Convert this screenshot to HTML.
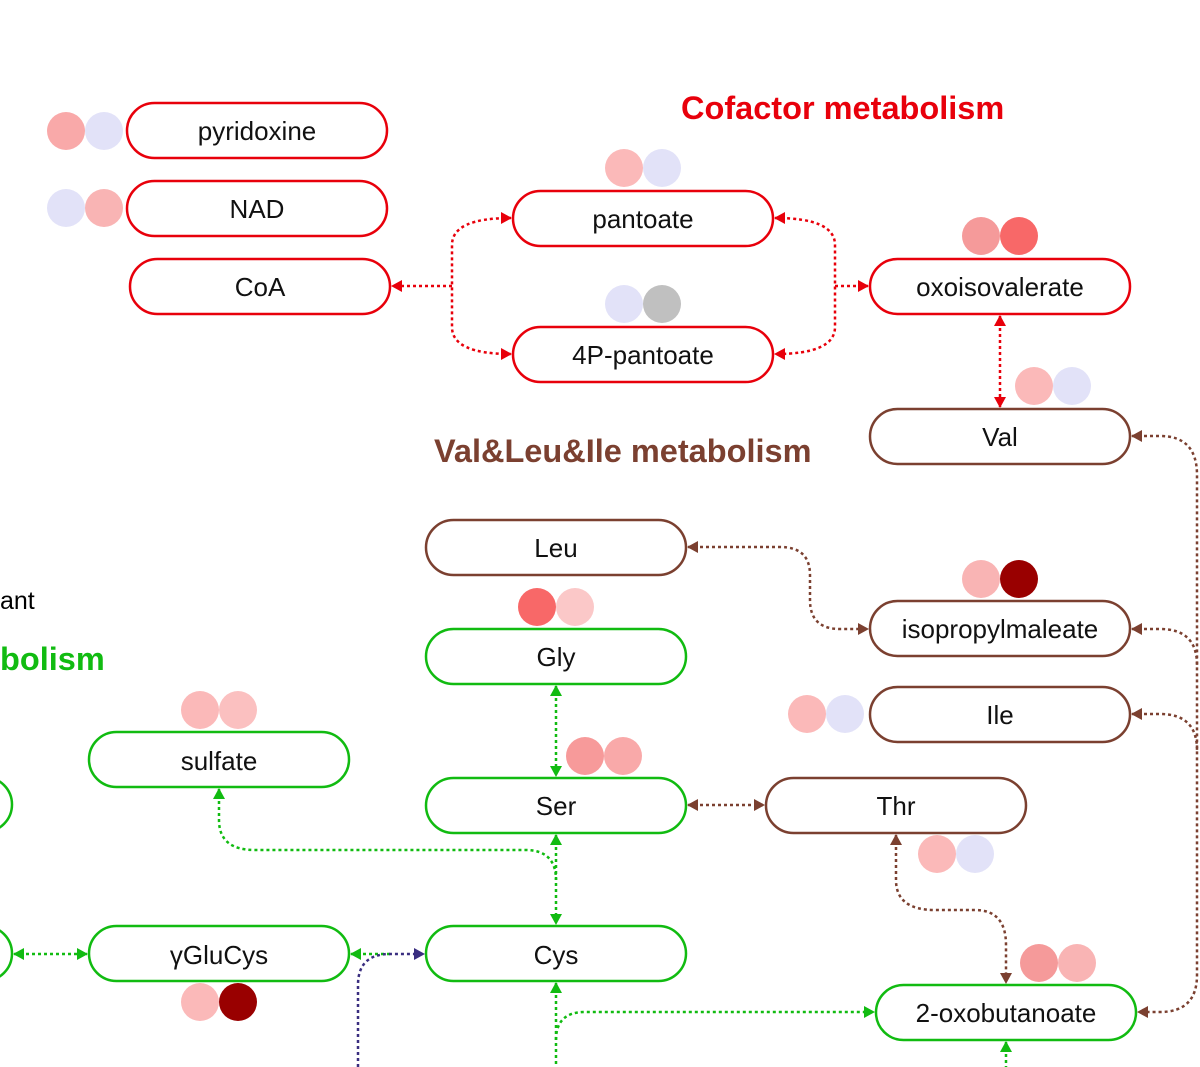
<!DOCTYPE html>
<html><head><meta charset="utf-8"><style>
html,body{margin:0;padding:0;background:#fff;}
svg{display:block;}
text{font-family:"Liberation Sans",Arial,sans-serif;}
</style></head><body>
<svg width="1200" height="1067" viewBox="0 0 1200 1067" xmlns="http://www.w3.org/2000/svg">
<defs>
<marker id="ar" markerWidth="12" markerHeight="12" refX="10" refY="6" orient="auto-start-reverse" markerUnits="userSpaceOnUse"><path d="M0,0 L11,6 L0,12 z" fill="#e8000b"/></marker>
<marker id="ab" markerWidth="12" markerHeight="12" refX="10" refY="6" orient="auto-start-reverse" markerUnits="userSpaceOnUse"><path d="M0,0 L11,6 L0,12 z" fill="#7b4030"/></marker>
<marker id="ag" markerWidth="12" markerHeight="12" refX="10" refY="6" orient="auto-start-reverse" markerUnits="userSpaceOnUse"><path d="M0,0 L11,6 L0,12 z" fill="#11bb11"/></marker>
<marker id="au" markerWidth="12" markerHeight="12" refX="10" refY="6" orient="auto-start-reverse" markerUnits="userSpaceOnUse"><path d="M0,0 L11,6 L0,12 z" fill="#3a2e80"/></marker>
</defs>

<text x="681" y="119" font-size="32.5" font-weight="bold" fill="#e8000b">Cofactor metabolism</text>
<text x="434" y="462" font-size="32.5" font-weight="bold" fill="#7b4030">Val&amp;Leu&amp;Ile metabolism</text>
<text x="0" y="670" font-size="32.5" font-weight="bold" fill="#11bb11">bolism</text>
<text x="0" y="609" font-size="25" fill="#000">ant</text>

<g fill="none" stroke-width="2.5" stroke-dasharray="3,3">
<path d="M452,286 L392,286" stroke="#e8000b" marker-end="url(#ar)"/>
<path d="M511,218 Q452,218 452,245 L452,327 Q452,354 511,354" stroke="#e8000b" marker-start="url(#ar)" marker-end="url(#ar)"/>
<path d="M775,218 Q835,218 835,245 L835,327 Q835,354 775,354" stroke="#e8000b" marker-start="url(#ar)" marker-end="url(#ar)"/>
<path d="M835,286 L868,286" stroke="#e8000b" marker-end="url(#ar)"/>
<path d="M1000,316 L1000,407" stroke="#e8000b" marker-start="url(#ar)" marker-end="url(#ar)"/>

<path d="M688,547 L780,547 Q810,547 810,575 L810,600 Q810,629 840,629 L868,629" stroke="#7b4030" marker-start="url(#ab)" marker-end="url(#ab)"/>
<path d="M1132,436 L1160,436 Q1197,436 1197,475 L1197,975 Q1197,1012 1160,1012 L1138,1012" stroke="#7b4030" marker-start="url(#ab)" marker-end="url(#ab)"/>
<path d="M1132,629 L1160,629 Q1197,629 1197,665" stroke="#7b4030" marker-start="url(#ab)"/>
<path d="M1132,714 L1160,714 Q1197,714 1197,750" stroke="#7b4030" marker-start="url(#ab)"/>
<path d="M688,805 L764,805" stroke="#7b4030" marker-start="url(#ab)" marker-end="url(#ab)"/>
<path d="M896,835 L896,880 Q896,910 935,910 L975,910 Q1006,910 1006,945 L1006,983" stroke="#7b4030" marker-start="url(#ab)" marker-end="url(#ab)"/>

<path d="M556,686 L556,776" stroke="#11bb11" marker-start="url(#ag)" marker-end="url(#ag)"/>
<path d="M556,835 L556,924" stroke="#11bb11" marker-start="url(#ag)" marker-end="url(#ag)"/>
<path d="M219,789 L219,820 Q219,850 255,850 L525,850 Q556,850 556,880" stroke="#11bb11" marker-start="url(#ag)"/>
<path d="M14,954 L87,954" stroke="#11bb11" marker-start="url(#ag)" marker-end="url(#ag)"/>
<path d="M351,954 L390,954" stroke="#11bb11" marker-start="url(#ag)"/>
<path d="M556,983 L556,1067" stroke="#11bb11" marker-start="url(#ag)"/>
<path d="M556,1040 Q556,1012 585,1012 L874,1012" stroke="#11bb11" marker-end="url(#ag)"/>
<path d="M1006,1042 L1006,1067" stroke="#11bb11" marker-start="url(#ag)"/>
<path d="M358,1067 L358,985 Q358,954 390,954 L424,954" stroke="#3a2e80" marker-end="url(#au)"/>
</g>

<g>
<circle cx="66" cy="131" r="19" fill="#f9a9a9"/><circle cx="104" cy="131" r="19" fill="#e2e2f8"/>
<circle cx="66" cy="208" r="19" fill="#e2e2f8"/><circle cx="104" cy="208" r="19" fill="#f9b4b4"/>
<circle cx="624" cy="168" r="19" fill="#fbb9b9"/><circle cx="662" cy="168" r="19" fill="#e2e2f8"/>
<circle cx="624" cy="304" r="19" fill="#e2e2f8"/><circle cx="662" cy="304" r="19" fill="#c0c0c0"/>
<circle cx="981" cy="236" r="19" fill="#f59a9a"/><circle cx="1019" cy="236" r="19" fill="#f86868"/>
<circle cx="1034" cy="386" r="19" fill="#fbb9b9"/><circle cx="1072" cy="386" r="19" fill="#e2e2f8"/>
<circle cx="981" cy="579" r="19" fill="#f9b4b4"/><circle cx="1019" cy="579" r="19" fill="#990000"/>
<circle cx="807" cy="714" r="19" fill="#fbb9b9"/><circle cx="845" cy="714" r="19" fill="#e2e2f8"/>
<circle cx="537" cy="607" r="19" fill="#f86868"/><circle cx="575" cy="607" r="19" fill="#fbc8c8"/>
<circle cx="200" cy="710" r="19" fill="#fbb9b9"/><circle cx="238" cy="710" r="19" fill="#fbc0c0"/>
<circle cx="585" cy="756" r="19" fill="#f79a9a"/><circle cx="623" cy="756" r="19" fill="#f9a9a9"/>
<circle cx="937" cy="854" r="19" fill="#fbb9b9"/><circle cx="975" cy="854" r="19" fill="#e2e2f8"/>
<circle cx="200" cy="1002" r="19" fill="#fbb9b9"/><circle cx="238" cy="1002" r="19" fill="#990000"/>
<circle cx="1039" cy="963" r="19" fill="#f59a9a"/><circle cx="1077" cy="963" r="19" fill="#f9b4b4"/>
</g>

<g fill="#fff" stroke-width="2.5">
<rect x="127" y="103" width="260" height="55" rx="27.5" stroke="#e8000b"/>
<rect x="127" y="181" width="260" height="55" rx="27.5" stroke="#e8000b"/>
<rect x="130" y="259" width="260" height="55" rx="27.5" stroke="#e8000b"/>
<rect x="513" y="191" width="260" height="55" rx="27.5" stroke="#e8000b"/>
<rect x="513" y="327" width="260" height="55" rx="27.5" stroke="#e8000b"/>
<rect x="870" y="259" width="260" height="55" rx="27.5" stroke="#e8000b"/>
<rect x="870" y="409" width="260" height="55" rx="27.5" stroke="#7b4030"/>
<rect x="426" y="520" width="260" height="55" rx="27.5" stroke="#7b4030"/>
<rect x="870" y="601" width="260" height="55" rx="27.5" stroke="#7b4030"/>
<rect x="870" y="687" width="260" height="55" rx="27.5" stroke="#7b4030"/>
<rect x="766" y="778" width="260" height="55" rx="27.5" stroke="#7b4030"/>
<rect x="426" y="629" width="260" height="55" rx="27.5" stroke="#11bb11"/>
<rect x="89" y="732" width="260" height="55" rx="27.5" stroke="#11bb11"/>
<rect x="426" y="778" width="260" height="55" rx="27.5" stroke="#11bb11"/>
<rect x="89" y="926" width="260" height="55" rx="27.5" stroke="#11bb11"/>
<rect x="426" y="926" width="260" height="55" rx="27.5" stroke="#11bb11"/>
<rect x="876" y="985" width="260" height="55" rx="27.5" stroke="#11bb11"/>
<rect x="-250" y="777" width="262" height="55" rx="27.5" stroke="#11bb11"/>
<rect x="-250" y="926" width="262" height="55" rx="27.5" stroke="#11bb11"/>
</g>

<g font-size="26" fill="#111" text-anchor="middle">
<text x="257" y="140">pyridoxine</text>
<text x="257" y="218">NAD</text>
<text x="260" y="296">CoA</text>
<text x="643" y="228">pantoate</text>
<text x="643" y="364">4P-pantoate</text>
<text x="1000" y="296">oxoisovalerate</text>
<text x="1000" y="446">Val</text>
<text x="556" y="557">Leu</text>
<text x="1000" y="638">isopropylmaleate</text>
<text x="1000" y="724">Ile</text>
<text x="896" y="815">Thr</text>
<text x="556" y="666">Gly</text>
<text x="219" y="770">sulfate</text>
<text x="556" y="815">Ser</text>
<text x="219" y="964">γGluCys</text>
<text x="556" y="964">Cys</text>
<text x="1006" y="1022">2-oxobutanoate</text>
</g>
</svg>
</body></html>
